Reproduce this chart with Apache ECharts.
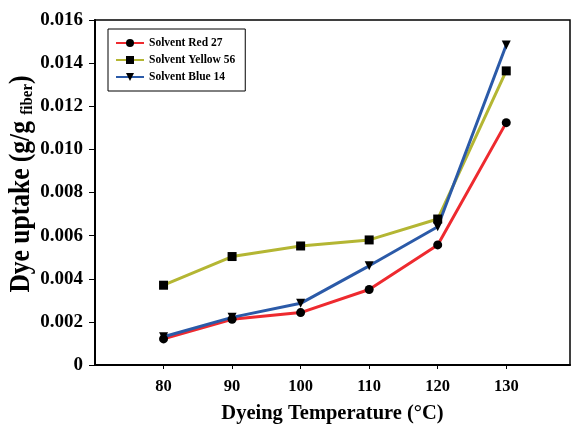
<!DOCTYPE html>
<html>
<head>
<meta charset="utf-8">
<script src="https://cdn.jsdelivr.net/npm/echarts@6/dist/echarts.min.js"></script>
<style>
html,body{margin:0;padding:0;background:#fff;}
#chart{width:571px;height:429px;}
</style>
</head>
<body>
<div id="chart"></div>
<script>
var temps = [80, 90, 100, 110, 120, 130];
var red27 = [0.00121, 0.00212, 0.00243, 0.00350, 0.00557, 0.01124];
var yellow56 = [0.00370, 0.00503, 0.00552, 0.00580, 0.00677, 0.01364];
var blue14 = [0.00131, 0.00221, 0.00286, 0.00460, 0.00641, 0.01484];
var names = ['Solvent Red 27', 'Solvent Yellow 56', 'Solvent Blue 14'];

var chart = echarts.init(document.getElementById('chart'));
var font = 'Liberation Serif';

function pairs(vals){
    var out = [];
    for (var i = 0; i < temps.length; i++) {
        out.push([temps[i], vals[i]]);
    }
    return out;
}

function makeSeries(name, vals, color, symbol){
    return {
        name: name,
        type: 'line',
        data: pairs(vals),
        symbol: symbol,
        symbolSize: 9,
        lineStyle: { color: color, width: 3 },
        itemStyle: { color: '#000' },
        z: 3
    };
}

chart.setOption({
    animation: false,
    backgroundColor: '#fff',
    grid: {
        left: 95, right: 1, top: 20, bottom: 64,
        outerBoundsMode: 'none',
        show: true, borderColor: '#000', borderWidth: 1.5
    },
    // y title drawn as text so it can be squeezed like the original
    graphic: [{
        type: 'text',
        x: 22, y: 184,
        rotation: Math.PI / 2,
        scaleX: 0.88,
        style: {
            text: '{m|Dye uptake (g/g }{s|fiber}{m|)}',
            align: 'center',
            verticalAlign: 'middle',
            rich: {
                m: { fontFamily: font, fontWeight: 'bold', fontSize: 29, fill: '#000', lineHeight: 32 },
                s: { fontFamily: font, fontWeight: 'bold', fontSize: 17, fill: '#000', lineHeight: 32, padding: [11, 0, 0, 0] }
            }
        }
    }],
    legend: {
        data: names,
        orient: 'vertical',
        left: 108, top: 29,
        padding: [8, 10, 8, 7],
        itemGap: 5,
        itemWidth: 28,
        itemHeight: 10,
        borderColor: '#000',
        borderWidth: 1,
        backgroundColor: '#fff',
        textStyle: { fontFamily: font, fontWeight: 'bold', fontSize: 11.5, color: '#000' }
    },
    xAxis: {
        type: 'value',
        min: 70, max: 139.3, interval: 10,
        name: 'Dyeing Temperature (°C)',
        nameLocation: 'middle',
        nameGap: 38,
        nameTextStyle: { fontFamily: font, fontWeight: 'bold', fontSize: 20.5, color: '#000' },
        splitLine: { show: false },
        axisLine: { lineStyle: { color: '#000', width: 2 } },
        axisTick: { length: 4, customValues: temps, lineStyle: { color: '#000' } },
        axisLabel: {
            margin: 13,
            customValues: temps,
            fontFamily: font, fontWeight: 'bold', fontSize: 16.5, color: '#000'
        }
    },
    yAxis: {
        type: 'value',
        min: 0, max: 0.016, interval: 0.002,
        splitLine: { show: false },
        axisLine: { show: true, lineStyle: { color: '#000', width: 2 } },
        axisTick: { show: true, length: 6, lineStyle: { color: '#000' } },
        axisLabel: {
            margin: 12,
            fontFamily: font, fontWeight: 'bold', fontSize: 19, color: '#000',
            formatter: function (v) { return v === 0 ? '0' : v.toFixed(3); }
        }
    },
    series: [
        makeSeries(names[0], red27, '#ee2a2f', 'circle'),
        makeSeries(names[1], yellow56, '#b4b633', 'rect'),
        makeSeries(names[2], blue14, '#2b5aa8', 'path://M0,0 L10,0 L5,9 Z')
    ]
});
</script>
</body>
</html>
